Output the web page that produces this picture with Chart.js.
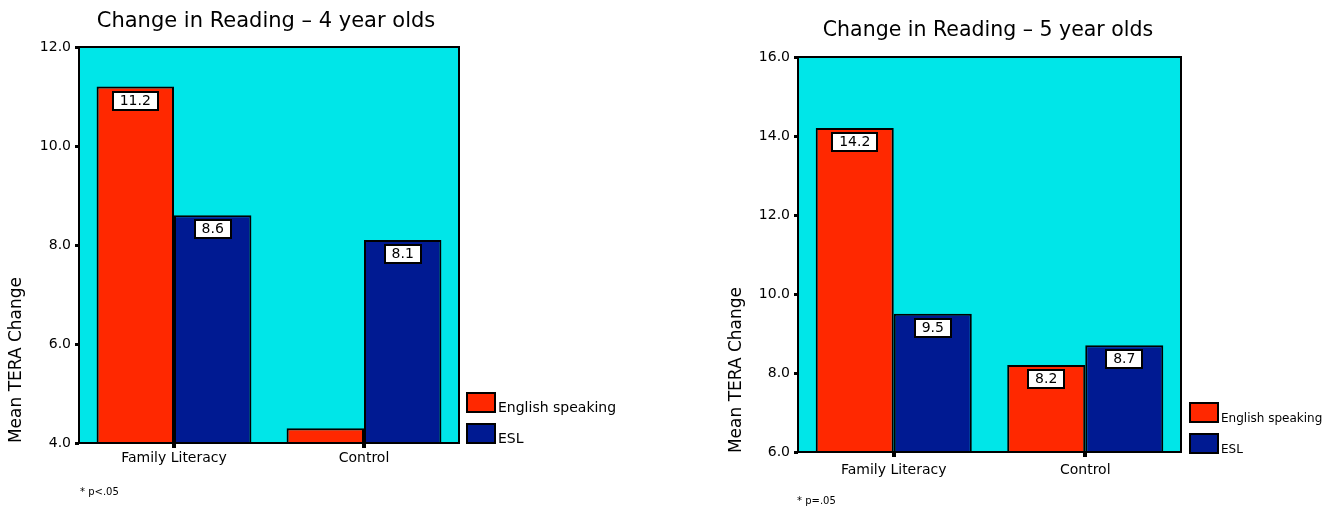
<!DOCTYPE html>
<html>
<head>
<meta charset="utf-8">
<script src="https://cdn.jsdelivr.net/npm/chart.js@4/dist/chart.umd.min.js"></script>
<style>
  html, body { margin: 0; padding: 0; background: #ffffff; }
  #wrap { position: relative; width: 1328px; height: 506px; }
  canvas { position: absolute; top: 0; }
  #c4 { left: 0; }
  #c5 { left: 664px; }
</style>
</head>
<body>
<div id="wrap">
  <canvas id="c4" width="664" height="506"></canvas>
  <canvas id="c5" width="664" height="506"></canvas>
</div>
<script>
// Program groups and the two language groups
const categories = ['Family Literacy', 'Control'];
const seriesNames = ['English speaking', 'ESL'];

// Mean TERA change, 4 year olds
const englishFour = [11.2, 4.3];
const eslFour = [8.6, 8.1];

// Mean TERA change, 5 year olds
const englishFive = [14.2, 8.2];
const eslFive = [9.5, 8.7];

// Value-axis tick labels
const ticksFour = [4, 6, 8, 10, 12];
const ticksFive = [6, 8, 10, 12, 14, 16];

const titleFour = 'Change in Reading – 4 year olds';
const titleFive = 'Change in Reading – 5 year olds';
const axisTitle = 'Mean TERA Change';
const noteFour = '* p<.05';
const noteFive = '* p=.05';

const FONT = '"DejaVu Sans", Verdana, sans-serif';
const COLORS = ['#FF2800', '#001A92'];
const PLOT_BG = '#00E6E8';

// Draws the plot background, frame, value boxes, legend, titles and notes
const decorPlugin = {
  id: 'decor',
  beforeDatasetsDraw(chart) {
    const a = chart.chartArea, ctx = chart.ctx;
    ctx.save();
    ctx.fillStyle = PLOT_BG;
    ctx.fillRect(a.left, a.top, a.right - a.left, a.bottom - a.top);
    ctx.restore();
  },
  afterDatasetsDraw(chart, args, opts) {
    const a = chart.chartArea, ctx = chart.ctx;
    ctx.save();
    // value boxes near the top of each bar tall enough to hold one
    ctx.font = '14px ' + FONT;
    ctx.textAlign = 'center';
    ctx.textBaseline = 'middle';
    chart.data.datasets.forEach((ds, di) => {
      chart.getDatasetMeta(di).data.forEach((el, i) => {
        const h = Math.min(el.base, a.bottom) - el.y;
        if (h < 40) return;
        const txt = ds.data[i].toFixed(1);
        const w = Math.round(ctx.measureText(txt).width + 14);
        const bx = Math.round(el.x - w / 2), by = Math.round(el.y + 5);
        ctx.fillStyle = '#ffffff';
        ctx.fillRect(bx, by, w, 18);
        ctx.strokeStyle = '#000000';
        ctx.lineWidth = 2;
        ctx.strokeRect(bx, by, w, 18);
        ctx.fillStyle = '#000000';
        ctx.fillText(txt, el.x, by + 9.5);
      });
    });
    // frame around the plot
    ctx.strokeStyle = '#000000';
    ctx.lineWidth = 2;
    ctx.strokeRect(a.left, a.top, a.right - a.left, a.bottom - a.top);
    ctx.restore();
  },
  afterDraw(chart, args, opts) {
    const ctx = chart.ctx;
    ctx.save();
    // title
    ctx.fillStyle = '#000000';
    ctx.font = opts.titleSize + 'px ' + FONT;
    ctx.textAlign = 'center';
    ctx.textBaseline = 'middle';
    ctx.fillText(opts.title, opts.titleX, opts.titleY);
    // value-axis title
    ctx.save();
    ctx.translate(opts.axisX, opts.axisY);
    ctx.rotate(-Math.PI / 2);
    ctx.font = '17px ' + FONT;
    ctx.fillText(axisTitle, 0, 0);
    ctx.restore();
    // legend
    ctx.textAlign = 'left';
    ctx.textBaseline = 'alphabetic';
    ctx.font = opts.legendSize + 'px ' + FONT;
    chart.data.datasets.forEach((ds, di) => {
      const y = opts.legendY + di * opts.legendGap;
      ctx.fillStyle = ds.backgroundColor;
      ctx.fillRect(opts.legendX, y, 28, 19);
      ctx.strokeStyle = '#000000';
      ctx.lineWidth = 2;
      ctx.strokeRect(opts.legendX, y, 28, 19);
      ctx.fillStyle = '#000000';
      ctx.fillText(ds.label, opts.legendX + 31, y + 19);
    });
    // footnote
    ctx.font = '10px ' + FONT;
    ctx.textBaseline = 'middle';
    ctx.fillText(opts.note, opts.noteX, opts.noteY);
    ctx.restore();
  }
};

function makeChart(id, english, esl, tickVals, geo, decor) {
  return new Chart(document.getElementById(id), {
    type: 'bar',
    data: {
      labels: categories,
      datasets: [
        { label: seriesNames[0], data: english, backgroundColor: COLORS[0] },
        { label: seriesNames[1], data: esl, backgroundColor: COLORS[1] }
      ]
    },
    options: {
      responsive: false,
      animation: false,
      devicePixelRatio: 1,
      layout: { padding: { left: 0, top: geo.top, right: geo.right, bottom: 0 } },
      datasets: {
        bar: {
          borderColor: '#000000',
          borderWidth: 2,
          categoryPercentage: 0.815,
          barPercentage: 1
        }
      },
      scales: {
        x: {
          offset: true,
          border: { display: false },
          grid: { offset: false, drawOnChartArea: false, color: '#000000', lineWidth: 4, tickLength: 5 },
          ticks: { color: '#000000', font: { family: FONT, size: 14 }, padding: geo.xpad },
          afterFit(s) { s.height = geo.xh; }
        },
        y: {
          min: tickVals[0],
          max: tickVals[tickVals.length - 1],
          border: { display: false },
          grid: { drawOnChartArea: false, color: '#000000', lineWidth: 3, tickLength: 4 },
          afterBuildTicks(s) { s.ticks = tickVals.map(v => ({ value: v })); },
          ticks: {
            color: '#000000',
            font: { family: FONT, size: 14 },
            padding: 4,
            callback: v => Number(v).toFixed(1)
          },
          afterFit(s) { s.width = geo.yw; }
        }
      },
      plugins: {
        legend: { display: false },
        title: { display: false },
        tooltip: { enabled: false },
        decor: decor
      }
    },
    plugins: [decorPlugin]
  });
}

makeChart('c4', englishFour, eslFour, ticksFour,
  { top: 47, right: 205, xh: 63, yw: 79, xpad: 2 },
  { title: titleFour, titleSize: 21, titleX: 266, titleY: 22,
    axisX: 17, axisY: 360,
    legendX: 467, legendY: 393, legendGap: 31, legendSize: 14,
    note: noteFour, noteX: 80, noteY: 492 });

makeChart('c5', englishFive, eslFive, ticksFive,
  { top: 57, right: 147, xh: 54, yw: 134, xpad: 5 },
  { title: titleFive, titleSize: 20.5, titleX: 324, titleY: 31,
    axisX: 73, axisY: 370,
    legendX: 526, legendY: 403, legendGap: 31, legendSize: 12,
    note: noteFive, noteX: 133, noteY: 501 });
</script>
</body>
</html>
